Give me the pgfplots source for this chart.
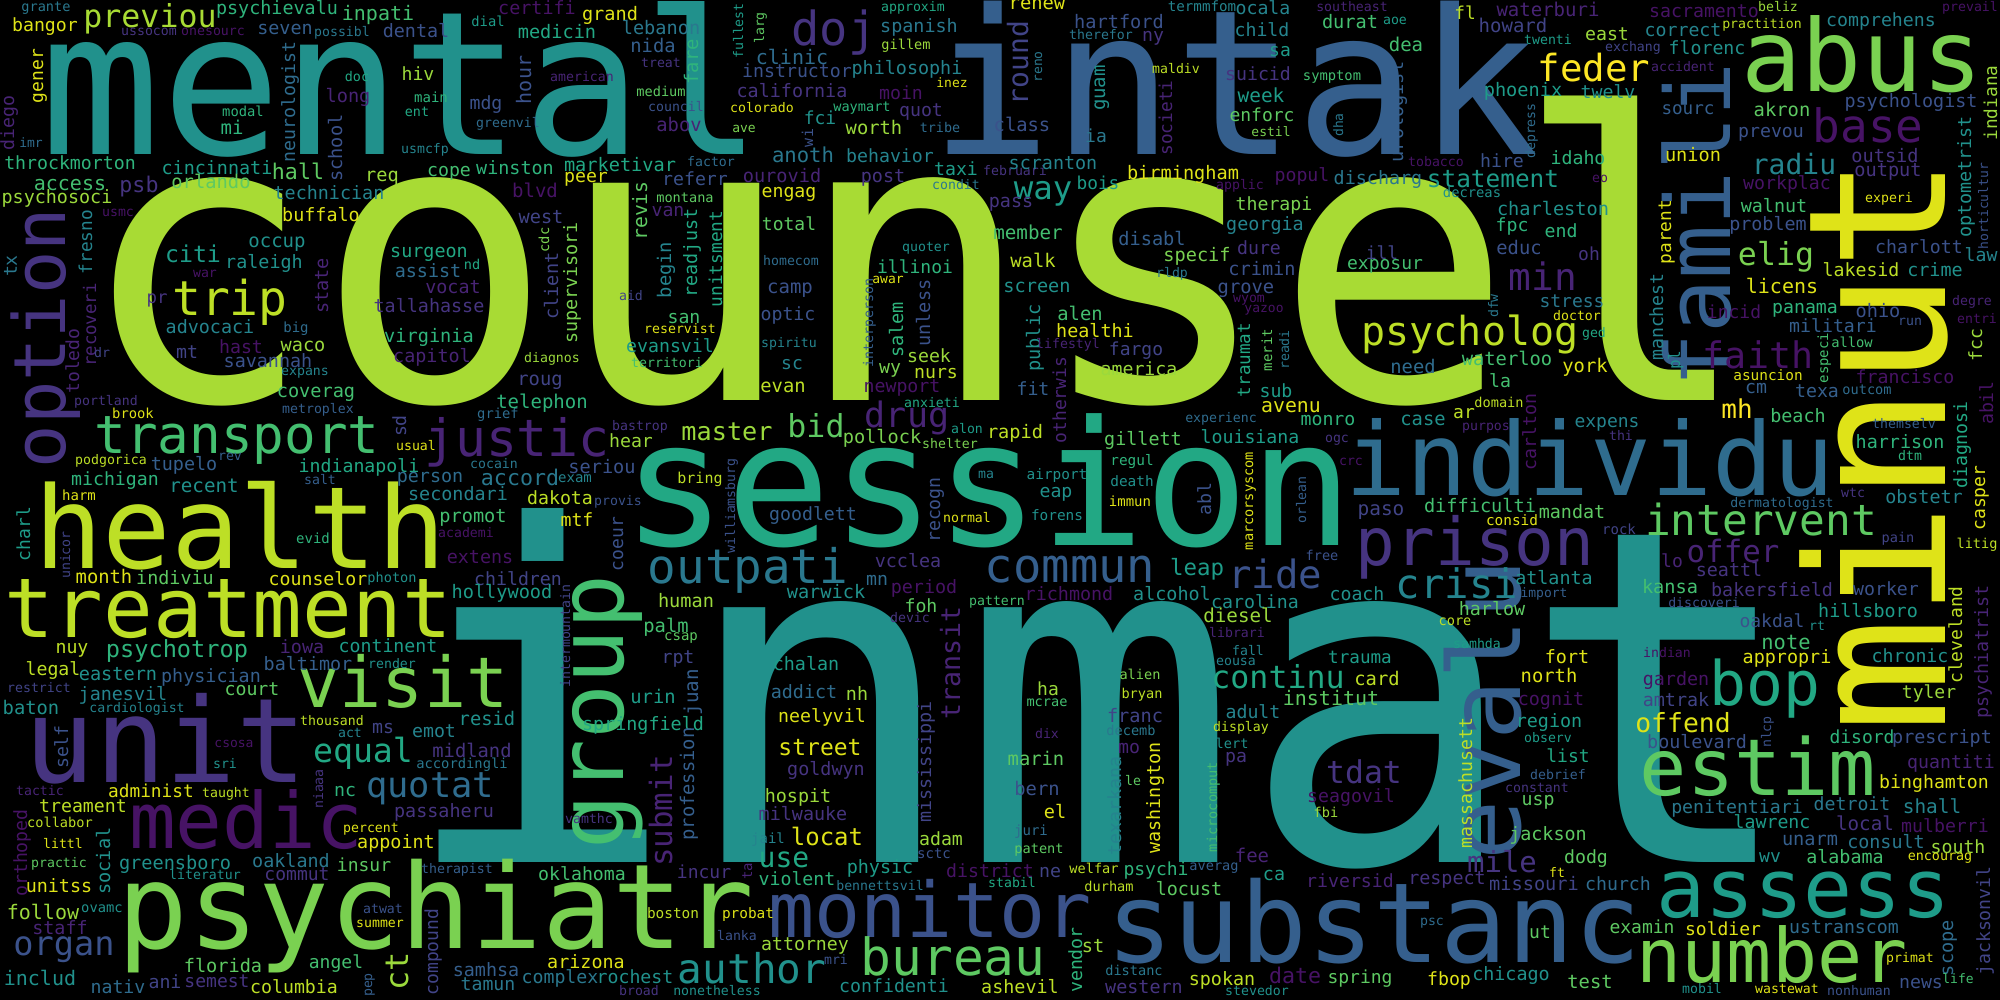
\documentclass[border=0pt]{standalone}
\usepackage{pgfplots}
\pgfplotsset{compat=1.18}
\usepackage{fontspec}
\newfontfamily\wc{DejaVu Sans Mono}
\definecolor{v0}{HTML}{440154}
\definecolor{v1}{HTML}{471365}
\definecolor{v2}{HTML}{482475}
\definecolor{v3}{HTML}{463480}
\definecolor{v4}{HTML}{414487}
\definecolor{v5}{HTML}{3B528B}
\definecolor{v6}{HTML}{355F8D}
\definecolor{v7}{HTML}{2F6C8E}
\definecolor{v8}{HTML}{2A788E}
\definecolor{v9}{HTML}{25848E}
\definecolor{v10}{HTML}{21918C}
\definecolor{v11}{HTML}{1E9C89}
\definecolor{v12}{HTML}{22A884}
\definecolor{v13}{HTML}{2FB47C}
\definecolor{v14}{HTML}{44BF70}
\definecolor{v15}{HTML}{5EC962}
\definecolor{v16}{HTML}{7AD151}
\definecolor{v17}{HTML}{9BD93C}
\definecolor{v18}{HTML}{BDDF26}
\definecolor{v19}{HTML}{DFE318}
\definecolor{v20}{HTML}{FDE725}
\definecolor{cA}{HTML}{A8DB34}
\begin{document}
\begin{tikzpicture}
\begin{axis}[
  width=1000pt, height=500pt, scale only axis,
  xmin=0, xmax=2000, ymin=0, ymax=1000, y dir=reverse,
  axis background/.style={fill=black},
  axis line style={draw=none}, ticks=none,
  clip=false,
]
\addplot[draw=none, mark=none,
  point meta=explicit symbolic,
  nodes near coords={\pgfplotspointmeta},
  visualization depends on={value \thisrow{s} \as \fs},
  visualization depends on={value \thisrow{r} \as \rot},
  visualization depends on={value \thisrow{c} \as \col},
  every node near coord/.append style={anchor=base, inner sep=0pt, outer sep=0pt,
     font=\wc\fontsize{\fs}{\fs}\selectfont, text=\col, rotate=\rot},
] table[x=x, y=y, meta=w] {
x y s r c w
915 400 199 0 cA counsel
1100 862 233 0 v10 inmat
402 155 100 0 v10 mental
1235 155 101 0 v6 intak
1945 445 96 90 v19 minut
988 545 86.8 0 v12 session
166 782 58.7 0 v3 unit
436 948 58.8 0 v16 psychiatr
240 568 57 0 v18 health
228 637 41.3 0 v18 treatment
1374 962 55.5 0 v6 substanc
930 937 38.3 0 v5 monitor
246 848 38.8 0 v1 medic
1590 495 50.7 0 v7 individu
1730 225 45 90 v6 famili
1862 92 50 0 v16 abus
1758 795 39.3 0 v15 estim
1803 917 40.7 0 v11 assess
1772 982 37.5 0 v16 number
1765 705 30.7 0 v12 bop
1520 710 50 90 v6 evalu
1475 565 33 0 v3 prison
65 338 36 90 v3 option
623 712 45.6 90 v14 group
403 707 35 0 v16 visit
237 453 26.3 0 v14 transport
517 456 25.7 0 v2 justic
748 583 23.8 0 v8 outpati
1070 582 23.6 0 v6 commun
1457 598 20.3 0 v9 crisi
1275 588 19.5 0 v5 ride
1761 535 21.4 0 v15 intervent
752 983 20.5 0 v10 author
953 975 25.6 0 v15 bureau
1470 345 20 0 v18 psycholog
1868 143 23 0 v1 base
834 46 23.5 0 v3 doj
230 315 24 0 v18 trip
1594 82 18.7 0 v20 feder
1758 368 18.3 0 v1 faith
1733 562 15.4 0 v2 offer
907 427 17.5 0 v2 drug
430 797 17.7 0 v7 quotat
363 762 16.6 0 v12 equal
64 955 16.8 0 v5 organ
1776 265 15.8 0 v16 elig
1043 200 16.2 0 v11 way
816 437 15.8 0 v15 bid
1278 688 15.8 0 v12 continu
1364 783 15.7 0 v3 tdat
1543 290 18.9 0 v2 min
1028 63 14 90 v4 round
1794 175 14 0 v9 radiu
1502 872 14.5 0 v3 mile
672 811 15.4 90 v2 submit
960 663 13.3 90 v2 transit
1683 732 13.2 0 v19 offend
1737 418 13 0 v20 mh
784 867 14 0 v12 use
727 440 12.6 0 v17 master
1493 188 12.2 0 v11 statement
827 845 12 0 v19 locat
177 657 11.8 0 v13 psychotrop
820 755 11.5 0 v19 street
1197 575 11.2 0 v11 leap
193 263 11.6 0 v11 citi
1295 983 10.8 0 v1 date
520 485 10.8 0 v8 accord
298 180 10.8 0 v15 hall
139 193 10.8 0 v3 psb
408 971 16 90 v17 ct
150 28 15.8 0 cA previou
46 12 6.8 0 v8 grante
277 15 9.2 0 v13 psychievalu
378 21 10 0 v14 inpati
488 27 6.9 0 v11 dial
45 32 9.1 0 v19 bangor
149 36 6.6 0 v3 ussocom
213 36 6.6 0 v1 onesourc
285 35 9.2 0 v6 seven
342 37 6.6 0 v8 possibl
416 38 9.2 0 v5 dental
43 76 9 90 v19 gener
14 123 9.1 90 v2 diego
295 102 9.1 90 v7 neurologist
357 82 6.7 0 v12 doc
418 81 9.1 0 v17 hiv
348 103 9.3 0 v2 long
431 103 7 0 v13 main
417 117 6.7 0 v12 ent
486 110 9.1 0 v5 mdg
508 128 6.6 0 v7 greenvil
243 117 6.9 0 v13 modal
232 135 9.5 0 v13 mi
31 148 6.5 0 v7 imr
425 154 6.6 0 v9 usmcfp
70 170 9.1 0 v13 throckmorton
217 175 9.2 0 v11 cincinnati
342 148 9.3 90 v5 school
382 182 9.3 0 v17 req
449 177 9.1 0 v14 cope
515 175 9.2 0 v13 winston
70 191 10 0 v14 access
211 189 9.4 0 v15 orlando
57 204 9.2 0 v17 psychosoci
329 199 9.2 0 v9 technician
321 221 9.2 0 v19 buffalo
118 217 6.6 0 v1 usmc
92 242 8.9 90 v9 fresno
96 325 8.7 90 v2 recoveri
79 361 9 90 v2 toledo
17 266 9.1 90 v8 tx
277 248 9.5 0 v10 occup
264 268 9.2 0 v10 raleigh
205 278 6.6 0 v1 war
429 257 9.2 0 v12 surgeon
428 278 9.2 0 v7 assist
472 270 6.8 0 v12 nd
453 293 9.2 0 v2 vocat
328 286 9.3 90 v2 state
157 303 8.7 0 v3 pr
429 312 9.2 0 v3 tallahasse
210 333 9.2 0 v9 advocaci
296 332 7 0 v7 big
429 342 9.3 0 v13 virginia
537 15 9.2 0 v1 certifi
610 21 9.3 0 v19 grand
557 39 9.3 0 v12 medicin
661 35 9.3 0 v8 lebanon
653 53 9.4 0 v6 nida
661 68 6.6 0 v3 treat
582 82 6.6 0 v2 american
531 80 10 90 v5 hour
698 62 9.4 90 v13 fare
661 97 6.8 0 v15 medium
676 112 6.6 0 v5 council
679 132 9.4 0 v2 abov
743 31 6.6 90 v11 fullest
764 28 6.6 90 v15 larg
913 12 6.6 0 v12 approxim
919 33 9.2 0 v8 spanish
906 50 6.8 0 v17 gillem
792 65 10 0 v7 clinic
797 78 9.1 0 v5 instructor
907 75 9.2 0 v9 philosophi
952 88 6.5 0 v19 inez
792 98 9.2 0 v3 california
901 100 9.1 0 v1 moin
762 113 6.6 0 v19 colorado
862 112 6.8 0 v13 waymart
921 117 9.1 0 v3 quot
820 125 9 0 v10 fci
813 138 7.5 90 v5 wi
744 133 6.5 0 v16 ave
874 135 9.4 0 v17 worth
940 133 6.7 0 v7 tribe
620 172 9.3 0 v12 marketivar
711 167 6.6 0 v7 factor
803 163 10.3 0 v8 anoth
890 163 9.1 0 v9 behavior
956 176 9.1 0 v11 taxi
956 190 6.6 0 v8 condit
586 183 9.1 0 v19 peer
695 186 9.1 0 v5 referr
782 183 9.3 0 v2 ourovid
883 183 9.2 0 v3 post
535 198 9.5 0 v1 blvd
647 211 9.9 90 v15 revis
685 203 6.8 0 v15 montana
789 198 9.1 0 v19 engag
668 217 9.1 0 v2 van
541 223 9.3 0 v4 west
549 240 6.9 90 v16 cdc
577 283 9.2 90 v16 supervisori
558 286 9.3 90 v4 client
697 253 9.2 90 v12 readjust
671 270 9.4 90 v9 begin
722 259 8.9 90 v12 unitsment
789 230 9 0 v15 total
791 265 6.6 0 v7 homecom
926 251 6.6 0 v10 quoter
915 273 9 0 v13 illinoi
888 283 6.5 0 v19 awar
631 300 6.6 0 v4 aid
790 293 9.5 0 v5 camp
788 320 9.1 0 v5 optic
684 323 9.1 0 v14 san
680 333 6.6 0 v19 reservist
873 323 6.7 90 v6 interperson
903 330 9.3 90 v13 salem
930 313 9.3 90 v5 unless
1015 176 6.6 0 v3 februari
1011 208 9.2 0 v3 pass
789 347 6.6 0 v9 spiritu
1037 10 9.4 0 v19 renew
1202 12 7.1 0 v9 termmfom
1263 15 9.1 0 v9 ocala
1352 12 6.6 0 v2 southeast
1119 29 9.3 0 v5 hartford
1101 40 6.6 0 v8 therefor
1153 42 9.1 0 v3 ny
1262 37 9.1 0 v9 child
1350 29 9.3 0 v14 durat
1395 25 6.6 0 v11 aoe
1465 20 8.9 0 v18 fl
1513 33 9.5 0 v4 howard
1042 67 6.5 90 v8 reno
1105 88 9.5 90 v10 guam
1176 74 6.6 0 v18 maldiv
1172 118 8.9 90 v2 societi
1280 57 9 0 v11 sa
1406 52 9.5 0 v14 dea
1258 81 9.1 0 v3 suicid
1332 81 6.9 0 v14 symptom
1403 112 9.3 90 v6 urologist
1523 97 9.3 0 v11 phoenix
1261 103 9.7 0 v11 week
1022 132 9.4 0 v5 class
1096 143 9 0 v8 ia
1262 122 9 0 v15 enforc
1271 137 6.5 0 v16 estil
1343 125 6.5 90 v8 dha
1436 167 6.6 0 v1 tobacco
1502 168 9.1 0 v5 hire
1053 170 9.2 0 v9 scranton
1183 180 9.3 0 v19 birmingham
1302 182 9.1 0 v1 popul
1378 185 9.2 0 v8 discharg
1098 190 8.9 0 v11 bois
1240 190 6.6 0 v1 applic
1472 198 6.9 0 v10 decreas
1274 211 9.1 0 v16 therapi
1028 240 9.6 0 v14 member
1265 230 9.2 0 v9 georgia
1152 245 9.3 0 v6 disabl
1033 267 9.4 0 v18 walk
1197 262 9.3 0 v16 specif
1259 255 9.1 0 v3 dure
1382 259 9 0 v4 ill
1385 270 9 0 v14 exposur
1262 275 9.3 0 v5 crimin
1172 278 6.6 0 v8 rldp
1037 292 9.3 0 v10 screen
1246 293 9.4 0 v5 grove
1249 302 6.6 0 v1 wyom
1264 312 6.5 0 v1 yazoo
1080 320 9.4 0 v14 alen
1095 337 9.2 0 v19 healthi
1040 338 9.3 90 v10 public
1498 306 6.6 90 v8 dfw
1250 360 8.8 90 v12 traumat
1272 350 7 90 v15 merit
1289 350 6.6 90 v8 readi
1548 17 9.5 0 v2 waterburi
1704 18 9.1 0 v1 sacramento
1778 12 6.6 0 v17 beliz
1970 12 6.6 0 v1 prevail
1607 41 9.1 0 v17 east
1683 37 9.1 0 v9 correct
1762 29 6.6 0 v18 practition
1881 27 9.1 0 v9 comprehens
1548 45 6.6 0 v11 twenti
1633 52 6.6 0 v4 exchang
1707 55 9.1 0 v10 florenc
1683 72 6.6 0 v2 accident
1608 99 9.1 0 v10 twelv
1535 131 6.6 90 v7 depress
1911 108 9.2 0 v5 psychologist
1997 103 8.9 90 v17 indiana
1688 115 8.8 0 v6 sourc
1782 117 9.4 0 v15 akron
1771 138 9.1 0 v5 prevou
1578 165 9.1 0 v13 idaho
1693 162 9.3 0 v19 union
1885 163 9.3 0 v3 outsid
1888 177 9.3 0 v3 output
1971 177 9.2 90 v10 optometrist
1988 206 6.5 90 v5 horticultur
1600 183 6.6 0 v1 eo
1787 190 9.1 0 v1 workplac
1553 215 9.3 0 v10 charleston
1889 203 6.6 0 v19 experi
1671 232 8.9 90 v19 parent
1512 232 9.1 0 v13 fpc
1561 237 9.1 0 v13 end
1774 213 9.2 0 v14 walnut
1768 230 9.2 0 v5 problem
1519 255 9.4 0 v5 educ
1589 260 9 0 v3 oh
1919 254 9.1 0 v5 charlott
1981 262 9.1 0 v9 law
1861 277 9.1 0 v18 lakesid
1935 277 9.2 0 v10 crime
1782 293 10 0 v19 licens
1572 307 9 0 v8 stress
1577 320 6.6 0 v19 doctor
1594 337 6.6 0 v12 ged
1663 317 9.1 90 v9 manchest
1734 318 9 0 v1 incid
1805 313 9.1 0 v13 panama
1878 317 9.3 0 v5 ohio
1910 325 6.6 0 v5 run
1972 305 6.6 0 v2 degre
1977 323 6.6 0 v1 entri
1833 332 9.1 0 v6 militari
1982 345 9.1 90 v17 fcc
102 357 6.6 0 v4 dr
241 353 9.1 0 v1 hast
187 358 9.1 0 v4 mt
303 351 9.3 0 v17 waco
268 367 9.2 0 v5 savannah
305 375 6.6 0 v9 expans
432 362 9.2 0 v2 capitol
316 397 9.3 0 v14 coverag
106 405 6.6 0 v3 portland
318 413 6.6 0 v6 metroplex
133 418 6.9 0 v19 brook
498 418 6.9 0 v7 grief
406 426 9.1 90 v4 sd
416 450 6.6 0 v19 usual
111 464 6.6 0 v18 podgorica
184 470 9.2 0 v6 tupelo
230 460 6.6 0 v6 rev
359 472 9.1 0 v12 indianapoli
494 468 6.6 0 v8 cocain
115 485 9.1 0 v13 michigan
204 492 9.6 0 v10 recent
320 484 6.6 0 v6 salt
430 482 9.2 0 v7 person
79 500 7 0 v19 harm
458 500 9.2 0 v9 secondari
473 522 9.3 0 v14 promot
466 537 6.6 0 v1 academi
313 543 7 0 v13 evid
30 534 9 90 v11 charl
70 555 6.6 90 v4 unicor
480 563 9.2 0 v1 extens
104 583 9.4 0 v19 month
175 584 9.2 0 v15 indiviu
318 585 9.1 0 v19 counselor
392 582 6.8 0 v10 photon
518 585 9.1 0 v4 children
502 598 9.3 0 v11 hollywood
72 653 9.1 0 v18 nuy
302 653 9.2 0 v2 iowa
388 652 9.1 0 v11 continent
308 670 9.2 0 v6 baltimor
392 668 6.6 0 v10 render
53 675 9.1 0 v18 legal
118 680 9.3 0 v10 eastern
211 682 9.2 0 v6 physician
39 692 6.6 0 v4 restrict
123 700 9.2 0 v9 janesvil
252 695 9.1 0 v15 court
137 712 6.6 0 v9 cardiologist
31 714 9.4 0 v10 baton
332 725 6.6 0 v18 thousand
350 737 6.6 0 v9 act
383 733 9.1 0 v4 ms
434 737 9.1 0 v9 emot
487 725 9.4 0 v10 resid
68 747 9.1 90 v5 self
472 757 9.4 0 v3 midland
234 747 6.5 0 v1 csosa
225 768 6.6 0 v10 sri
462 768 6.9 0 v8 accordingli
40 795 6.6 0 v2 tactic
151 797 8.9 0 v19 administ
226 797 6.6 0 v18 taught
323 789 6.6 90 v3 niaaa
345 796 9.1 0 v13 nc
83 812 9.1 0 v18 treament
444 817 9.2 0 v3 passaheru
27 853 9.1 90 v1 orthoped
60 827 6.8 0 v18 collabor
371 832 6.6 0 v19 percent
63 848 6.6 0 v19 littl
110 861 9.3 90 v10 social
396 848 9.2 0 v19 appoint
59 867 6.6 0 v15 practic
175 869 9.3 0 v10 greensboro
291 867 9.2 0 v8 oakland
364 871 9 0 v15 insur
457 873 6.6 0 v6 therapist
205 879 6.6 0 v10 literatur
297 880 9 0 v3 commut
59 892 9.2 0 v19 unitss
43 919 10 0 v17 follow
102 912 6.9 0 v10 ovamc
60 934 9.2 0 v2 staff
383 913 6.6 0 v5 atwat
380 927 6.6 0 v19 summer
438 952 9 90 v4 compound
223 972 9.3 0 v15 florida
336 968 9 0 v14 angel
486 976 9.2 0 v6 samhsa
40 985 10 0 v10 includ
118 993 9.1 0 v7 nativ
165 988 9.1 0 v4 ani
217 987 9 0 v3 semest
294 993 9.1 0 v18 columbia
372 985 6.6 90 v6 pep
488 990 9.1 0 v8 tamun
552 362 6.6 0 v17 diagnos
670 352 9.1 0 v11 evansvil
667 367 6.6 0 v14 territori
540 385 9.4 0 v4 roug
542 408 9.5 0 v13 telephon
792 369 9 0 v9 sc
783 392 9.4 0 v18 evan
890 373 9.1 0 v16 wy
929 362 9.1 0 v17 seek
936 378 9.1 0 v18 nurs
902 392 9.1 0 v1 newport
932 407 6.6 0 v12 anxieti
640 430 6.6 0 v3 bastrop
882 443 9.3 0 v16 pollock
967 433 6.6 0 v11 alon
950 448 6.6 0 v16 shelter
1015 438 9.3 0 v18 rapid
631 447 9.1 0 v17 hear
602 473 9.3 0 v5 seriou
575 482 7 0 v9 exam
700 483 7.5 0 v18 bring
735 506 6.6 90 v5 williamsburg
560 504 9.1 0 v18 dakota
618 505 6.6 0 v5 provis
577 526 9.1 0 v19 mtf
623 544 9 90 v5 coeur
813 520 9.1 0 v6 goodlett
940 510 9.1 90 v5 recogn
967 522 6.6 0 v19 normal
986 478 6.6 0 v9 ma
826 598 9.3 0 v10 warwick
908 567 9.2 0 v3 vcclea
877 585 9.1 0 v7 mn
924 593 9.2 0 v1 period
686 607 9.3 0 v17 human
921 612 9.1 0 v15 foh
997 605 6.6 0 v14 pattern
910 622 6.6 0 v3 devic
570 636 6.6 90 v4 intermountain
666 632 9.4 0 v14 palm
681 640 7 0 v15 csap
678 663 9.1 0 v4 rpt
806 670 9.2 0 v11 chalan
1068 348 6.6 0 v2 lifestyl
1136 355 9 0 v4 fargo
1139 375 9.1 0 v17 america
1033 395 9.1 0 v6 fit
1066 400 9 90 v2 otherwis
1276 397 9.1 0 v11 sub
1291 412 9.9 0 v19 avenu
1413 373 9.4 0 v7 need
1507 365 9.4 0 v14 waterloo
1221 422 6.6 0 v7 experienc
1328 425 9.1 0 v13 monro
1423 425 9.4 0 v10 case
1464 418 9 0 v18 ar
1499 407 6.8 0 v18 domain
1486 430 6.6 0 v2 purpos
1143 445 9.2 0 v15 gillett
1250 443 9.1 0 v11 louisiana
1337 442 6.6 0 v3 ogc
1132 465 7.2 0 v13 regul
1351 465 6.6 0 v1 crc
1057 479 7.2 0 v10 airport
1132 486 7.2 0 v10 death
1056 497 9.1 0 v10 eap
1130 506 7 0 v19 immun
1211 499 9.1 90 v5 abl
1253 501 6.8 90 v19 marcorsyscom
1306 500 6.6 90 v6 orlean
1057 520 7.2 0 v10 forens
1381 515 9.7 0 v4 paso
1480 512 9.3 0 v14 difficulti
1512 525 7.2 0 v19 consid
1322 560 6.8 0 v5 free
1069 600 9.2 0 v1 richmond
1172 600 9.2 0 v10 alcohol
1255 608 9.1 0 v10 carolina
1357 600 9.1 0 v10 coach
1238 622 9.6 0 v17 diesel
1492 615 9.2 0 v15 harlow
1455 625 6.8 0 v18 core
1237 637 6.6 0 v2 librari
1477 648 6.6 0 v11 samhda
1248 655 6.6 0 v9 fall
1236 665 6.6 0 v9 eousa
1360 663 8.8 0 v11 trauma
1585 372 9.4 0 v19 york
1500 387 9.1 0 v14 la
1680 360 8 90 v10 pl
1828 358 7 90 v14 especi
1852 347 6.9 0 v14 allow
1768 380 7.2 0 v19 asuncion
1905 383 9.1 0 v1 francisco
1756 393 9.1 0 v6 cm
1817 397 9.1 0 v6 texa
1867 394 6.8 0 v7 outcom
1536 432 9.1 90 v1 carlton
1798 422 9.2 0 v14 beach
1607 427 9 0 v9 expens
1621 440 6.6 0 v3 thi
1904 428 6.6 0 v6 themselv
1900 448 9.2 0 v13 harrison
1910 460 6.6 0 v13 dtm
1967 445 9.1 90 v12 diagnosi
1993 403 9.1 90 v1 abil
1985 498 9 90 v19 casper
1853 497 6.6 0 v3 wtc
1924 503 9.2 0 v9 obstetr
1782 507 6.6 0 v7 dermatologist
1572 518 9.2 0 v15 mandat
1619 534 7 0 v4 rock
1898 542 6.8 0 v4 pain
1977 548 6.8 0 v18 litig
1672 567 9 0 v2 lo
1729 576 9.2 0 v3 seattl
1554 584 9.2 0 v10 atlanta
1544 597 6.5 0 v6 import
1670 593 9.3 0 v14 kansa
1772 596 9.2 0 v3 bakersfield
1886 595 9.1 0 v5 worker
1704 607 6.6 0 v5 discoveri
1868 617 9.2 0 v11 hillsboro
1772 627 9 0 v5 oakdal
1817 630 6.6 0 v10 rt
1786 649 10.2 0 v14 note
1667 657 6.6 0 v1 indian
1567 663 9.2 0 v19 fort
1787 663 9.2 0 v19 appropri
1910 662 9.1 0 v10 chronic
1962 635 9 90 v18 cleveland
1988 652 9.2 90 v2 psychiatrist
1549 682 9.4 0 v19 north
1676 685 9.2 0 v1 garden
1551 705 9.2 0 v1 cognit
1676 706 9.2 0 v4 amtrak
1929 698 9 0 v17 tyler
1549 727 9.2 0 v11 region
1771 732 6.6 90 v5 nlcp
1548 742 6.6 0 v11 observ
1862 743 9 0 v13 disord
1942 743 9.2 0 v5 prescript
1697 748 9.2 0 v5 boulevard
1568 762 9 0 v12 list
1951 768 9.1 0 v2 quantiti
1558 779 6.6 0 v6 debrief
1934 788 9.1 0 v19 binghamton
1537 792 6.6 0 v3 constant
1538 805 9.1 0 v15 usp
1737 813 9.1 0 v8 penitentiari
1852 810 9.1 0 v8 detroit
1932 813 9.7 0 v9 shall
1772 828 9.1 0 v11 lawrenc
1865 830 9.6 0 v3 local
1945 832 9.1 0 v1 mulberri
1548 840 9.2 0 v15 jackson
1810 845 9.3 0 v6 unarm
1886 848 9.2 0 v8 consult
1958 853 9.1 0 v17 south
1586 863 9.1 0 v15 dodg
1770 862 9 0 v10 wv
1845 863 9.2 0 v14 alabama
1940 860 6.7 0 v19 encourag
1557 877 6.6 0 v19 ft
1534 890 9.3 0 v4 missouri
1618 890 9.1 0 v7 church
1990 921 9.1 90 v4 jacksonvil
1642 933 9 0 v15 examin
1723 935 9 0 v19 soldier
1844 933 9.1 0 v7 ustranscom
1540 938 9 0 v15 ut
1953 948 9.3 90 v7 scope
1910 962 6.6 0 v19 primat
1511 980 9.2 0 v10 chicago
1590 988 9.4 0 v15 test
1921 988 9.1 0 v5 news
1958 983 6.5 0 v14 life
1702 993 6.6 0 v10 mobil
1787 993 6.6 0 v19 wastewat
1859 995 6.6 0 v5 nonhuman
653 703 9.4 0 v11 urin
698 692 9.6 90 v6 juan
643 730 9.2 0 v12 springfield
804 698 9.2 0 v7 addict
857 700 9.2 0 v17 nh
822 722 9.1 0 v19 neelyvil
931 762 9.2 90 v4 mississippi
694 784 9.4 90 v6 profession
826 775 9.2 0 v3 goldwyn
589 823 6.6 0 v3 vamthc
798 802 9.2 0 v17 hospit
803 820 9.2 0 v3 milwauke
768 843 7 0 v9 jail
941 845 9.1 0 v17 adam
934 858 7 0 v5 sctc
582 880 9.1 0 v14 oklahoma
704 878 9 0 v3 incur
752 871 7 90 v2 ta
880 873 9.2 0 v11 physic
797 885 9.1 0 v13 violent
880 890 6.6 0 v8 bennettsvil
990 877 9.1 0 v1 district
1012 887 6.6 0 v12 stabil
673 918 7.2 0 v18 boston
748 918 7.2 0 v19 probat
737 940 6.6 0 v5 lanka
805 950 9.1 0 v17 attorney
836 964 6.6 0 v5 mri
586 968 9.2 0 v19 arizona
560 983 9.1 0 v8 complex
635 983 9.1 0 v10 rochest
894 992 9.1 0 v10 confidenti
639 995 6.6 0 v3 broad
717 995 6.6 0 v10 nonetheless
1020 993 9.2 0 v18 ashevil
1140 679 6.8 0 v16 alien
1377 685 9.4 0 v18 card
1048 695 9 0 v17 ha
1142 698 6.8 0 v18 bryan
1331 705 10 0 v15 institut
1047 706 6.8 0 v14 mcrae
1135 722 9.3 0 v4 franc
1253 718 9.1 0 v9 adult
1131 735 6.8 0 v8 decemb
1241 731 6.6 0 v18 display
1047 738 6.6 0 v2 dix
1228 748 6.8 0 v10 alert
1129 753 9.1 0 v2 mo
1236 762 9.1 0 v3 pa
1036 765 9.4 0 v15 marin
1472 783 9.1 90 v18 massachusett
1133 785 6.6 0 v15 le
1121 806 9.1 90 v9 texarkana
1160 798 9.2 90 v19 washington
1217 807 6.8 90 v14 microcomput
1037 795 9.4 0 v5 bern
1351 802 9.1 0 v1 seagovil
1326 817 6.8 0 v17 fbi
1055 818 9.3 0 v19 el
1031 835 7 0 v7 juri
1039 853 6.8 0 v15 patent
1252 862 9.5 0 v2 fee
1050 877 9.1 0 v4 ne
1094 873 6.8 0 v18 welfar
1156 875 9 0 v13 psychi
1214 870 6.8 0 v6 averag
1274 880 9.2 0 v11 ca
1350 887 9.1 0 v2 riversid
1447 884 9.2 0 v3 respect
1109 891 6.8 0 v18 durham
1189 895 9.2 0 v15 locust
1432 925 6.6 0 v7 psc
1082 960 9.1 90 v13 vendor
1093 952 9.3 0 v17 st
1134 975 6.8 0 v8 distanc
1222 985 9.2 0 v18 spokan
1360 983 9 0 v15 spring
1449 985 9.1 0 v19 fbop
1144 993 9.2 0 v3 western
1257 995 6.6 0 v10 stevedor
};
\end{axis}
\pgfresetboundingbox
\path[use as bounding box] (current axis.south west) rectangle (current axis.north east);
\end{tikzpicture}
\end{document}
